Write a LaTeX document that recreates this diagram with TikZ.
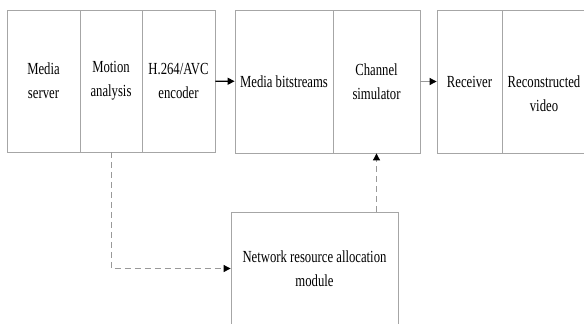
\documentclass[tikz,border=0pt]{standalone}
\usepackage{fontspec}
\setmainfont{Liberation Serif}[FakeStretch=0.75]
\usetikzlibrary{arrows.meta}

\begin{document}
\begin{tikzpicture}[
  x=1bp, y=-1bp,
  every node/.style={font=\fontsize{17}{24}\selectfont},
  blockbox/.style={draw=gray!70, line width=0.8bp, minimum height=142bp,
               inner sep=2pt, align=center},
  tip/.style={-{Triangle[length=7bp, width=7bp, black]}},
  dashline/.style={draw=gray!80, line width=0.9bp, dash pattern=on 6bp off 4bp}
]
\useasboundingbox (0,0) rectangle (584,323);

\node[blockbox, minimum width=73bp] (srv) at (43.5, 81) {Media\\server};
\node[blockbox, minimum width=62bp] (mot) at (111, 81) {Motion\\analysis};
\node[blockbox, minimum width=73bp] (enc) at (178.5, 81) {H.264/AVC\\encoder};

\node[blockbox, minimum width=98bp, minimum height=143bp] (bits) at (284, 81.5)
  {Media bitstreams};
\node[blockbox, minimum width=87bp, minimum height=143bp] (chan) at (376.5, 81.5)
  {Channel\\simulator};

\node[blockbox, minimum width=65bp, minimum height=143bp] (recv) at (469.5, 81.5)
  {Receiver};
\node[blockbox, minimum width=84bp, minimum height=143bp] (rec) at (544, 81.5) {};
\node[align=center] (rectxt) at (544, 94) {Reconstructed\\video};

\node[blockbox, minimum width=167bp, minimum height=113bp] (net) at (314.5, 268.5)
  {Network resource allocation\\module};

\draw[tip, line width=1.3bp] (enc) -- (bits);
\draw[tip, draw=gray!80, line width=0.8bp] (chan) -- (recv);

\draw[tip, dashline] (mot.south) |- (net.west);
\draw[tip, dashline] (chan.south |- net.north) -- (chan.south);

\end{tikzpicture}
\end{document}
